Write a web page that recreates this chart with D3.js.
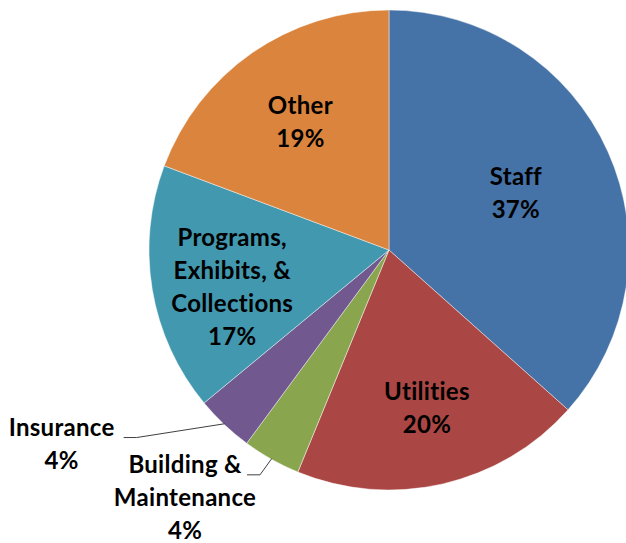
<!DOCTYPE html>
<html lang="en">
<head>
    <meta charset="UTF-8">
    <title>Expenses</title>
    <script src="https://d3js.org/d3.v7.min.js"></script>
    <style>
        body { margin: 0; background: #fff; }
    </style>
</head>
<body>
<script>
    const width = 626;
    const height = 543;

    // slices, clockwise from 12 o'clock
    const categories = ["Staff", "Utilities", "Building & Maintenance", "Insurance", "Programs, Exhibits, & Collections", "Other"];
    const values     = [36.6, 19.6, 3.9, 3.9, 16.7, 19.3];
    const pctLabels  = ["37%", "20%", "4%", "4%", "17%", "19%"];
    const labelLines = [["Staff"], ["Utilities"], ["Building &", "Maintenance"], ["Insurance"], ["Programs,", "Exhibits, &", "Collections"], ["Other"]];
    const colors     = ["#4572a7", "#aa4643", "#89a54e", "#71588f", "#4198af", "#db843d"];

    const cx = 389, cy = 250, radius = 240;
    const lineH = 33;
    const fontSize = 24;

    // inside label placement: distance from centre and angle shift (deg)
    const inside = {
        "Staff": {r: 139, da: 0},
        "Utilities": {r: 163, da: -0.5},
        "Programs, Exhibits, & Collections": {r: 161, da: -3.6},
        "Other": {r: 155.5, da: 0}
    };

    // outside labels with leader lines: angle shift (deg) and radius factor of the elbow
    const outside = {
        "Insurance": {da: 10, k: 1.31},
        "Building & Maintenance": {da: 0.5, k: 1.08}
    };

    const svg = d3.select("body").append("svg")
            .attr("width", width).attr("height", height);

    const pie = d3.pie().sort(null).value(d => d.value);
    const data = pie(categories.map((c, i) => ({name: c, value: values[i], i: i})));

    const arc = d3.arc().innerRadius(0).outerRadius(radius);

    const g = svg.append("g").attr("transform", `translate(${cx},${cy})`);

    g.selectAll("path.slice")
            .data(data)
            .enter()
            .append("path")
            .attr("class", "slice")
            .attr("d", arc)
            .style("fill", d => colors[d.data.i])
            .style("stroke", "rgba(255,255,255,0.6)")
            .style("stroke-width", 0.75);

    function polar(angle, r) {
        return [Math.sin(angle) * r, -Math.cos(angle) * r];
    }

    data.forEach(function(d) {
        const lines = labelLines[d.data.i].concat([pctLabels[d.data.i]]);
        const mid = (d.startAngle + d.endAngle) / 2;
        const opt = outside[d.data.name];

        const text = g.append("text")
                .style("font-family", "Lato, 'Open Sans', sans-serif")
                .style("font-weight", "bold")
                .style("font-size", fontSize + "px")
                .style("letter-spacing", "0.3px")
                .style("fill", "#000")
                .attr("text-anchor", "middle");

        lines.forEach(function(l) {
            text.append("tspan").text(l);
        });

        if (!opt) {
            const ins = inside[d.data.name];
            const c = polar(mid + ins.da * Math.PI / 180, ins.r);
            const y0 = c[1] - (lines.length - 1) * lineH / 2;
            text.selectAll("tspan")
                    .attr("x", c[0])
                    .attr("y", (l, j) => y0 + j * lineH)
                    .attr("dy", "0.35em");
        } else {
            const p0 = polar(mid, radius - 1);
            const p1 = polar(mid + opt.da * Math.PI / 180, radius * opt.k);
            const p2 = [p1[0] - 13, p1[1]];
            g.append("polyline")
                    .attr("points", [p0, p1, p2].map(p => p.join(",")).join(" "))
                    .style("fill", "none")
                    .style("stroke", "#404040")
                    .style("stroke-width", 1);

            const x = p2[0] - 62;
            const y0 = p2[1] - 10;
            text.selectAll("tspan")
                    .attr("x", x)
                    .attr("y", (l, j) => y0 + j * lineH)
                    .attr("dy", "0.35em");
        }
    });
</script>
</body>
</html>
